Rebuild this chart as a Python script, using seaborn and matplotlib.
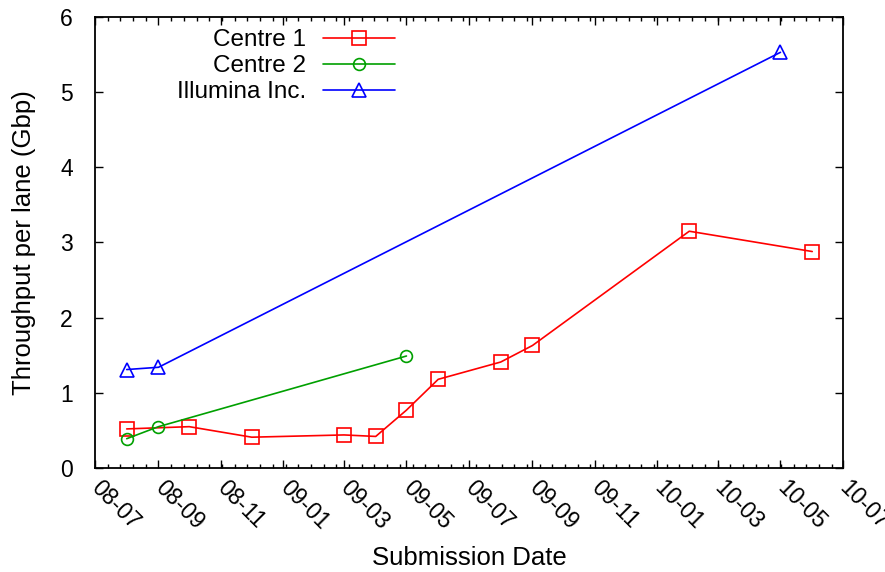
import pandas as pd
import matplotlib
matplotlib.use("Agg")
import matplotlib.pyplot as plt
import matplotlib.dates as mdates
from matplotlib.ticker import AutoMinorLocator
import seaborn as sns

# Throughput per sequencing lane over time, by submitting centre
centre1_dates = ["2008-08-01", "2008-10-01", "2008-12-01", "2009-03-01", "2009-04-01",
                 "2009-05-01", "2009-06-01", "2009-08-01", "2009-09-01", "2010-02-01",
                 "2010-06-01"]
centre1_gbp = [0.52, 0.55, 0.41, 0.44, 0.42, 0.77, 1.18, 1.41, 1.63, 3.15, 2.88]

centre2_dates = ["2008-08-01", "2008-09-01", "2009-05-01"]
centre2_gbp = [0.39, 0.55, 1.49]

illumina_dates = ["2008-08-01", "2008-09-01", "2010-05-01"]
illumina_gbp = [1.31, 1.34, 5.53]

series_names = ["Centre 1", "Centre 2", "Illumina Inc."]
series_colors = ["#ff0000", "#00a000", "#0000ff"]
series_markers = ["s", "o", "^"]
marker_sizes = [10, 8.5, 9.5]

x_start, x_end = "2008-07-01", "2010-07-01"
y_ticks = [0, 1, 2, 3, 4, 5, 6]

sns.set_theme(style="ticks")
plt.rcParams["font.family"] = ["Liberation Sans", "DejaVu Sans"]
plt.rcParams["text.color"] = "black"
plt.rcParams["axes.labelcolor"] = "black"
TICK_FS = 16.5
LABEL_FS = 18.5
LEGEND_FS = 17.5

fig = plt.figure(figsize=(8.85, 5.72), dpi=100)
ax = fig.add_axes([0.1073, 0.1818, 0.8452, 0.7885])

all_series = [(centre1_dates, centre1_gbp), (centre2_dates, centre2_gbp),
              (illumina_dates, illumina_gbp)]
for (dates, vals), name, col, mk, ms in zip(all_series, series_names, series_colors,
                                           series_markers, marker_sizes):
    df = pd.DataFrame({"date": pd.to_datetime(dates), "gbp": vals})
    sns.lineplot(data=df, x="date", y="gbp", ax=ax, color=col, label=name,
                 marker=mk, markersize=ms, markerfacecolor="none",
                 markeredgecolor=col, markeredgewidth=1.2, linewidth=1.2)

ax.set_xlim(pd.Timestamp(x_start), pd.Timestamp(x_end))
ax.set_ylim(y_ticks[0], y_ticks[-1])
ax.set_yticks(y_ticks)

ax.xaxis.set_major_locator(mdates.MonthLocator(bymonth=[1, 3, 5, 7, 9, 11]))
ax.xaxis.set_major_formatter(mdates.DateFormatter("%y-%m"))
ax.xaxis.set_minor_locator(AutoMinorLocator(5))

ax.tick_params(axis="both", which="both", direction="in", top=True, right=True,
               colors="black", labelsize=TICK_FS, width=1.0)
ax.tick_params(axis="both", which="major", length=6)
ax.tick_params(axis="both", which="minor", length=3)
ax.tick_params(axis="y", pad=16)
ax.tick_params(axis="x", pad=11.5)
for lbl in ax.get_xticklabels():
    lbl.set_rotation(-45)
    lbl.set_ha("left")
    lbl.set_va("center")
    lbl.set_rotation_mode("anchor")

for sp in ax.spines.values():
    sp.set_linewidth(1.3)
    sp.set_color("black")

ax.set_xlabel("Submission Date", fontsize=LABEL_FS, labelpad=9)
ax.set_ylabel("Throughput per lane (Gbp)", fontsize=LABEL_FS, labelpad=17)

ax.legend(loc="upper right", bbox_to_anchor=(0.401, 0.973), frameon=False,
          markerfirst=False, fontsize=LEGEND_FS, handlelength=2.95, handletextpad=0.7,
          labelspacing=0.17, borderpad=0, borderaxespad=0)

fig.savefig("out.png", dpi=100)
